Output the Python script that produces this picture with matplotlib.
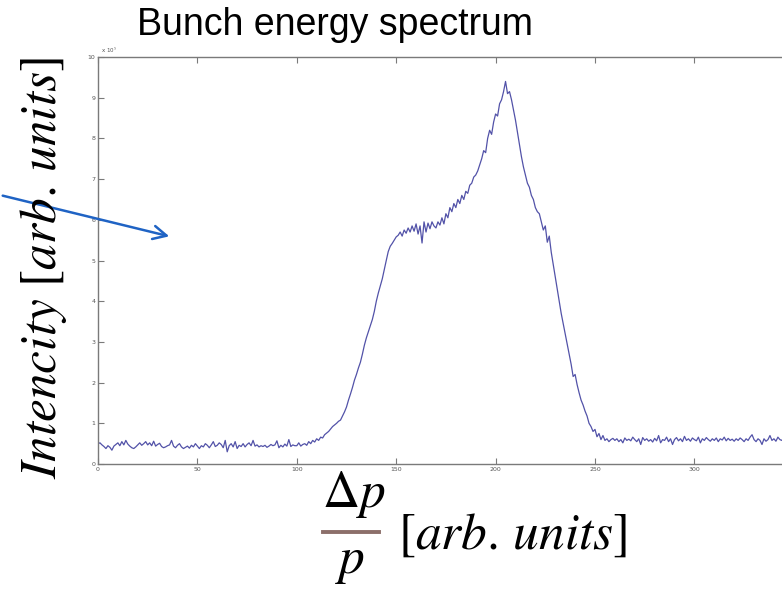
# -*- coding: utf-8 -*-
"""
束团能谱图 (Bunch energy spectrum)
"""
import matplotlib
matplotlib.use('Agg')
import matplotlib.pyplot as plt
from matplotlib.lines import Line2D
import numpy as np

# 数据：每个单位一个点，强度单位 x 10^5
intensity = [
    0.50, 0.52, 0.47, 0.43, 0.38, 0.45, 0.41, 0.34, 0.44, 0.48,
    0.52, 0.45, 0.55, 0.47, 0.58, 0.49, 0.44, 0.40, 0.38, 0.42,
    0.47, 0.52, 0.46, 0.50, 0.55, 0.47, 0.52, 0.45, 0.56, 0.44,
    0.48, 0.51, 0.43, 0.40, 0.42, 0.45, 0.47, 0.58, 0.44, 0.40,
    0.46, 0.50, 0.42, 0.38, 0.41, 0.44, 0.39, 0.46, 0.42, 0.50,
    0.44, 0.38, 0.45, 0.42, 0.50, 0.46, 0.40, 0.47, 0.55, 0.43,
    0.46, 0.52, 0.48, 0.40, 0.58, 0.30, 0.45, 0.50, 0.42, 0.55,
    0.38, 0.46, 0.43, 0.50, 0.42, 0.48, 0.52, 0.45, 0.58, 0.44,
    0.47, 0.42, 0.45, 0.43, 0.46, 0.41, 0.44, 0.48, 0.45, 0.47,
    0.57, 0.40, 0.46, 0.42, 0.49, 0.44, 0.60, 0.43, 0.47, 0.45,
    0.45, 0.52, 0.44, 0.48, 0.50, 0.46, 0.55, 0.50, 0.58, 0.54,
    0.62, 0.58, 0.66, 0.64, 0.72, 0.76, 0.80, 0.86, 0.92, 0.96,
    1.00, 1.05, 1.08, 1.18, 1.28, 1.40, 1.57, 1.72, 1.88, 2.06,
    2.20, 2.36, 2.50, 2.70, 2.92, 3.10, 3.25, 3.40, 3.55, 3.75,
    4.00, 4.20, 4.38, 4.55, 4.78, 5.00, 5.22, 5.35, 5.42, 5.50,
    5.58, 5.62, 5.70, 5.60, 5.75, 5.67, 5.80, 5.70, 5.85, 5.72,
    5.90, 5.65, 5.85, 5.43, 5.95, 5.70, 5.92, 5.78, 5.95, 5.85,
    5.80, 5.95, 5.87, 6.05, 5.90, 6.15, 6.05, 6.30, 6.20, 6.40,
    6.30, 6.50, 6.40, 6.60, 6.50, 6.70, 6.65, 6.85, 6.90, 7.05,
    7.10, 7.20, 7.35, 7.50, 7.70, 7.65, 8.00, 8.20, 8.10, 8.40,
    8.60, 8.55, 8.85, 8.95, 9.15, 9.40, 9.10, 9.15, 8.95, 8.70,
    8.45, 8.15, 7.85, 7.55, 7.30, 7.10, 6.90, 6.80, 6.60, 6.50,
    6.30, 6.20, 6.15, 5.95, 5.75, 5.85, 5.45, 5.60, 5.20, 4.90,
    4.60, 4.30, 4.00, 3.70, 3.45, 3.20, 2.95, 2.70, 2.45, 2.15,
    2.20, 1.95, 1.75, 1.57, 1.45, 1.30, 1.18, 1.00, 0.92, 0.80,
    0.85, 0.67, 0.75, 0.60, 0.70, 0.58, 0.62, 0.55, 0.60, 0.63,
    0.58, 0.62, 0.55, 0.60, 0.52, 0.64, 0.58, 0.61, 0.57, 0.66,
    0.60, 0.55, 0.62, 0.48, 0.65, 0.58, 0.62, 0.56, 0.60, 0.54,
    0.63, 0.57, 0.70, 0.52, 0.60, 0.58, 0.66, 0.55, 0.62, 0.48,
    0.60, 0.65, 0.57, 0.62, 0.55, 0.68, 0.58, 0.62, 0.56, 0.64,
    0.60, 0.57, 0.66, 0.52, 0.62, 0.58, 0.65, 0.60, 0.56, 0.62,
    0.58, 0.64, 0.55, 0.62, 0.59, 0.66, 0.57, 0.63, 0.58, 0.61,
    0.56, 0.62, 0.58, 0.64, 0.60, 0.55, 0.62, 0.58, 0.66, 0.72,
    0.60, 0.55, 0.62, 0.58, 0.48, 0.62, 0.56, 0.60, 0.70, 0.58,
    0.62, 0.56, 0.66, 0.60, 0.58, 0.64, 0.57, 0.62, 0.60, 0.58,
]
x_ticks = [0, 50, 100, 150, 200, 250, 300]
y_ticks = list(range(0, 11))

plt.rcParams['mathtext.fontset'] = 'stix'

fig = plt.figure(figsize=(7.82, 5.89), dpi=100)

# 坐标轴右侧超出画面（原图被裁剪）
ax = fig.add_axes([0.1253, 0.2122, 0.8898, 0.6910])
x = np.arange(len(intensity))
ax.plot(x, intensity, color='#5252a8', linewidth=0.9)
ax.set_xlim(0, 350)
ax.set_ylim(0, 10)
ax.set_xticks(x_ticks)
ax.set_yticks(y_ticks)

gray = '#7a7a7a'
for side in ['left', 'top', 'bottom', 'right']:
    ax.spines[side].set_color(gray)
    ax.spines[side].set_linewidth(1.0)
ax.tick_params(direction='in', length=4, width=0.8, color=gray,
               labelsize=4.5, labelcolor='#555555', pad=2,
               top=True, right=True)
ax.text(0.005, 1.005, r'x 10$^5$', transform=ax.transAxes, fontsize=4,
        color='#555555', va='bottom', ha='left')

# 标题
fig.text(137 / 782, 1 - 25 / 589, 'Bunch energy spectrum',
         family='Liberation Sans', fontsize=27, ha='left', va='center')

# y 轴标签
fig.text(44 / 782, 1 - 268 / 589, r'$Intencity\ [arb.\,units]$',
         rotation=90, fontsize=37, ha='center', va='center')

# x 轴标签：分数形式，分数线为棕色
fig.text(354 / 782, 1 - 495 / 589, r'$\Delta p$', fontsize=37,
         ha='center', va='center')
fig.text(350 / 782, 1 - 561 / 589, r'$p$', fontsize=37,
         ha='center', va='center')
fig.add_artist(Line2D([323 / 782, 379 / 782], [1 - 532 / 589, 1 - 532 / 589],
                      transform=fig.transFigure, color='#8c6f6a', linewidth=2.8))
fig.text(398 / 782, 1 - 535 / 589, r'$[arb.\,units]$', fontsize=37,
         ha='left', va='center')

# 蓝色箭头
ax.annotate('', xy=(172 / 782, 1 - 237 / 589), xycoords='figure fraction',
            xytext=(0, 1 - 195 / 589), textcoords='figure fraction',
            arrowprops=dict(arrowstyle='->', color='#1f63c4', lw=1.8,
                            mutation_scale=24),
            annotation_clip=False)

plt.savefig('out.png', dpi=100)
plt.close()
